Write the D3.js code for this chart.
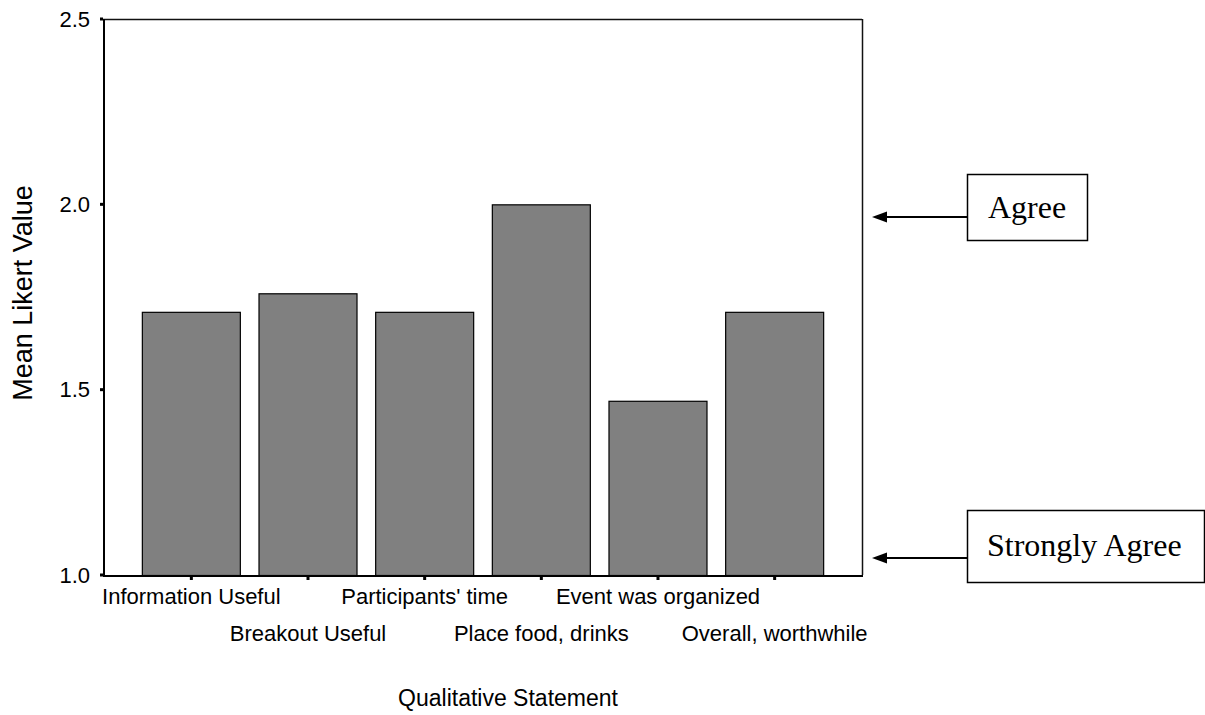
<!DOCTYPE html>
<html>
<head>
<meta charset="utf-8">
<script src="https://cdn.jsdelivr.net/npm/d3@7"></script>
<style>
  body { margin: 0; background: #fff; }
  text { font-family: Arial, "Liberation Sans", sans-serif; }
</style>
</head>
<body>
<div id="chart"></div>
<script>
// data
var statements = ["Information Useful", "Breakout Useful", "Participants' time",
                  "Place food, drinks", "Event was organized", "Overall, worthwhile"];
var meanLikert = [1.71, 1.76, 1.71, 2.00, 1.47, 1.71];
var yTicks = [1.0, 1.5, 2.0, 2.5];
var notes = [{label: "Agree", value: 1.97}, {label: "Strongly Agree", value: 1.05}];

var W = 1205, H = 715;
var plot = {left: 103, top: 19, right: 862, bottom: 575};

var svg = d3.select("#chart").append("svg")
    .attr("width", W)
    .attr("height", H);

var x = d3.scaleBand()
  .domain(statements)
  .range([plot.left, plot.right])
  .paddingInner(0.16)
  .paddingOuter(0.333);

var y = d3.scaleLinear()
  .domain([1.0, 2.5])
  .range([plot.bottom, plot.top]);

// bars
svg.selectAll("rect.bar")
  .data(statements)
  .enter()
  .append("rect")
    .attr("class", "bar")
    .attr("x", function(d) { return x(d) + 0.5 })
    .attr("y", function(d, i) { return y(meanLikert[i]) + 0.5 })
    .attr("width", x.bandwidth())
    .attr("height", function(d, i) { return y(1.0) - y(meanLikert[i]) })
    .attr("fill", "#808080")
    .attr("stroke", "#000")
    .attr("stroke-width", 1.2);

// frame: top and right thin, left and bottom heavier
svg.append("line")
  .attr("x1", plot.left).attr("x2", plot.right)
  .attr("y1", plot.top + 0.5).attr("y2", plot.top + 0.5)
  .attr("stroke", "#111").attr("stroke-width", 1.5);
svg.append("line")
  .attr("x1", plot.right + 0.5).attr("x2", plot.right + 0.5)
  .attr("y1", plot.top).attr("y2", plot.bottom)
  .attr("stroke", "#111").attr("stroke-width", 1.5);
svg.append("line")
  .attr("x1", plot.left + 1).attr("x2", plot.left + 1)
  .attr("y1", plot.top).attr("y2", plot.bottom + 1)
  .attr("stroke", "#000").attr("stroke-width", 2);
svg.append("line")
  .attr("x1", plot.left).attr("x2", plot.right + 1)
  .attr("y1", plot.bottom + 1).attr("y2", plot.bottom + 1)
  .attr("stroke", "#000").attr("stroke-width", 2);

// y axis ticks (small squares) and labels
var yAxis = svg.append("g");
yAxis.selectAll("rect")
  .data(yTicks)
  .enter()
  .append("rect")
    .attr("x", plot.left - 3)
    .attr("y", function(d) { return y(d) - 1.5 })
    .attr("width", 3)
    .attr("height", 3)
    .attr("fill", "#000");
yAxis.selectAll("text")
  .data(yTicks)
  .enter()
  .append("text")
    .attr("x", 90)
    .attr("y", function(d) { return y(d) })
    .attr("dy", "0.35em")
    .attr("text-anchor", "end")
    .attr("font-size", 22)
    .text(function(d) { return d.toFixed(1) });

// x axis ticks and staggered labels
var xAxis = svg.append("g");
xAxis.selectAll("rect")
  .data(statements)
  .enter()
  .append("rect")
    .attr("x", function(d) { return x(d) + x.bandwidth() / 2 - 1 })
    .attr("y", plot.bottom + 2)
    .attr("width", 3)
    .attr("height", 3)
    .attr("fill", "#000");
xAxis.selectAll("text")
  .data(statements)
  .enter()
  .append("text")
    .attr("x", function(d) { return x(d) + x.bandwidth() / 2 + 0.5 })
    .attr("y", function(d, i) { return i % 2 == 0 ? 604 : 641 })
    .attr("text-anchor", "middle")
    .attr("font-size", 22)
    .text(function(d) { return d });

// axis titles
svg.append("text")
  .attr("transform", "translate(32,293) rotate(-90)")
  .attr("text-anchor", "middle")
  .attr("font-size", 27)
  .text("Mean Likert Value");
svg.append("text")
  .attr("x", 508)
  .attr("y", 706)
  .attr("text-anchor", "middle")
  .attr("font-size", 23)
  .text("Qualitative Statement");

// annotation boxes with arrows
var boxes = [
  {x: 967, y: 174, w: 120, h: 66, tx: 1027, ty: 207, anchor: "middle", ay: 217},
  {x: 967, y: 510, w: 237, h: 72, tx: 987, ty: 545, anchor: "start", ay: 558}
];
var ann = svg.selectAll("g.note")
  .data(notes)
  .enter()
  .append("g")
    .attr("class", "note");
ann.append("line")
  .attr("x1", function(d, i) { return boxes[i].x })
  .attr("x2", 884)
  .attr("y1", function(d, i) { return boxes[i].ay })
  .attr("y2", function(d, i) { return boxes[i].ay })
  .attr("stroke", "#000")
  .attr("stroke-width", 2);
ann.append("path")
  .attr("d", function(d, i) {
    var ay = boxes[i].ay;
    return "M872," + ay + "L887," + (ay - 5.5) + "L887," + (ay + 5.5) + "Z";
  })
  .attr("fill", "#000");
ann.append("rect")
  .attr("x", function(d, i) { return boxes[i].x + 0.5 })
  .attr("y", function(d, i) { return boxes[i].y + 0.5 })
  .attr("width", function(d, i) { return boxes[i].w })
  .attr("height", function(d, i) { return boxes[i].h })
  .attr("fill", "#fff")
  .attr("stroke", "#000")
  .attr("stroke-width", 1.5);
ann.append("text")
  .attr("x", function(d, i) { return boxes[i].tx })
  .attr("y", function(d, i) { return boxes[i].ty })
  .attr("dy", "0.35em")
  .attr("text-anchor", function(d, i) { return boxes[i].anchor })
  .style("font-family", "'Liberation Serif', 'Times New Roman', serif")
  .attr("font-size", 32)
  .text(function(d) { return d.label });
</script>
</body>
</html>
